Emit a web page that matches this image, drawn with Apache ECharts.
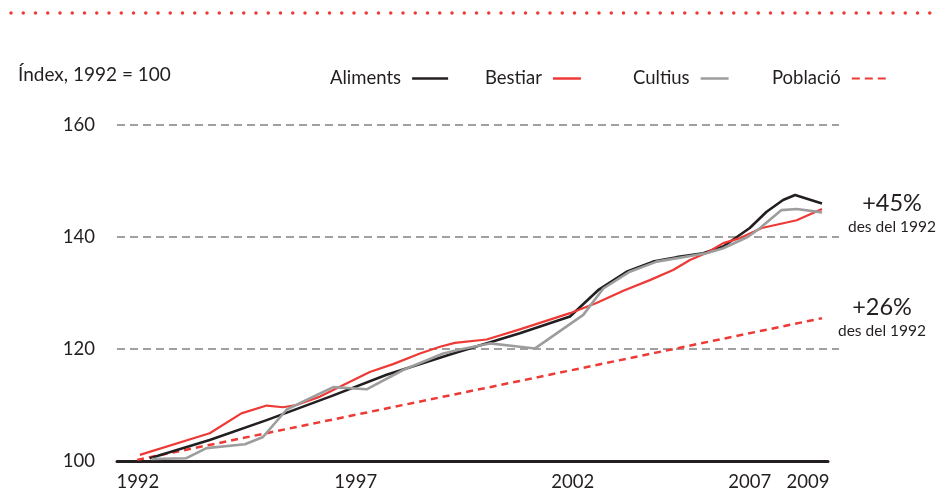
<!DOCTYPE html>
<html>
<head>
<meta charset="utf-8">
<script src="https://cdn.jsdelivr.net/npm/echarts@6/dist/echarts.min.js"></script>
<style>
html,body{margin:0;padding:0;background:#fff;}
#chart{width:938px;height:492px;}
</style>
</head>
<body>
<div id="chart"></div>
<script>
// ---- data (x = year, y = index 1992 = 100) ----
const aliments = [
  [1992.25, 100.5], [1993.74, 103.75], [1995.16, 107.3], [1996.74, 111.5], [1998.15, 115.4],
  [1999.81, 119.2], [2001.47, 122.8], [2002.72, 125.8], [2003.42, 130.5], [2004.13, 133.8],
  [2004.79, 135.6], [2005.38, 136.4], [2006.04, 137.1], [2006.54, 138.3], [2007.2, 141.6],
  [2007.62, 144.5], [2008.03, 146.6], [2008.33, 147.5], [2009.0, 146.0]
];
const bestiar = [
  [1992.0, 101.1], [1993.74, 104.95], [1994.53, 108.5], [1995.16, 109.9], [1995.57, 109.6],
  [1995.9, 110.0], [1996.49, 111.5], [1997.73, 115.9], [1998.31, 117.3], [1998.98, 119.2],
  [1999.48, 120.4], [1999.85, 121.1], [2000.64, 121.7], [2001.47, 123.5], [2002.72, 126.4],
  [2003.38, 128.2], [2004.05, 130.4], [2004.71, 132.3], [2005.29, 134.1], [2005.71, 135.9],
  [2006.13, 137.2], [2006.54, 138.9], [2006.96, 139.8], [2007.5, 141.6], [2008.37, 143.0],
  [2009.0, 145.0]
];
const cultius = [
  [1992.29, 100.36], [1993.16, 100.5], [1993.66, 102.3], [1994.62, 103.0], [1995.07, 104.3],
  [1995.66, 109.2], [1996.82, 113.2], [1997.65, 112.8], [1998.56, 116.25], [1999.56, 119.2],
  [1999.98, 119.9], [2000.72, 121.0], [2001.47, 120.4], [2001.85, 120.1], [2003.05, 126.1],
  [2003.55, 130.8], [2004.21, 133.8], [2004.88, 135.6], [2006.12, 137.1], [2006.54, 138.0],
  [2007.16, 140.05], [2007.45, 141.55], [2007.99, 144.8], [2008.37, 145.0], [2009.0, 144.4]
];
const poblacio = [[1991.93, 100.2], [2001.47, 114.3], [2009.0, 125.5]];

const seriesNames = ['Aliments', 'Bestiar', 'Cultius', 'Població'];
const xTickLabels = ['1992', '1997', '2002', '2007', '2009'];
const xTickAt = [1991.95, 1997.38, 2002.79, 2007.2, 2008.65];
const yTicks = [100, 120, 140, 160];
const annotations = [
  { big: '+45%', small: 'des del 1992' },
  { big: '+26%', small: 'des del 1992' }
];

// ---- styles ----
const FONT = 'Lato, "Open Sans", sans-serif';
const INK = '#231f20';
const RED = '#ee3a36';
const GREY = '#9d9d9d';

const chart = echarts.init(document.getElementById('chart'), null, { renderer: 'canvas' });

function lineSeries(name, data, color, width, dashed, z) {
  return {
    name: name, type: 'line', xAxisIndex: 1, yAxisIndex: 1,
    data: data, symbol: 'none', silent: true, animation: false, z: z,
    lineStyle: { color: color, width: width, type: dashed ? [7, 5] : 'solid', cap: 'butt', join: 'round' },
    itemStyle: { color: color }
  };
}

const legendLefts = [325, 480, 628, 767];
const legendIcons = [
  'rect', 'rect', 'rect',
  'path://M0,0h8v2h-8z M13,0h8v2h-8z M26,0h8v2h-8z'
];
const legendColors = [INK, RED, GREY, RED];
const legendIconW = [36, 28, 28, 34];

const option = {
  backgroundColor: '#fff',
  animation: false,
  textStyle: { fontFamily: FONT, color: INK },
  grid: [
    { left: 117, right: 99, top: 125, bottom: 31, containLabel: false },
    { left: 117, right: 110, top: 125, bottom: 31, containLabel: false }
  ],
  xAxis: [
    { gridIndex: 0, type: 'value', min: 0, max: 1, show: false },
    {
      gridIndex: 1, type: 'value', min: 1991.43, max: 2009.15,
      axisLine: { show: true, lineStyle: { color: INK, width: 3 } },
      axisTick: { show: false },
      splitLine: { show: false },
      axisLabel: {
        customValues: xTickAt,
        margin: 12,
        fontSize: 18.5,
        color: INK,
        fontFamily: FONT,
        formatter: function (v) {
          let best = 0, d = Infinity;
          xTickAt.forEach(function (t, i) { if (Math.abs(t - v) < d) { d = Math.abs(t - v); best = i; } });
          return xTickLabels[best];
        }
      }
    }
  ],
  yAxis: [
    {
      gridIndex: 0, type: 'value', min: yTicks[0], max: yTicks[yTicks.length - 1], interval: 20,
      axisLine: { show: false }, axisTick: { show: false },
      axisLabel: { margin: 22, fontSize: 18.5, color: INK, fontFamily: FONT },
      splitLine: { show: true, showMinLine: false, lineStyle: { color: '#a0a0a0', width: 2, type: [8, 5] } }
    },
    {
      gridIndex: 1, type: 'value', min: yTicks[0], max: yTicks[yTicks.length - 1], interval: 20,
      show: false, splitLine: { show: false }
    }
  ],
  legend: seriesNames.map(function (n, i) {
    return {
      data: [{ name: n, icon: legendIcons[i], itemStyle: { color: legendColors[i] } }],
      left: legendLefts[i], top: 64, align: 'right', selectedMode: false,
      itemWidth: legendIconW[i], itemHeight: 2.5, itemGap: 0,
      textStyle: { fontSize: 18.5, color: INK, fontFamily: FONT, padding: [0, 6, 0, 0] }
    };
  }),
  series: [
    lineSeries(seriesNames[3], poblacio, RED, 2.5, true, 2),
    lineSeries(seriesNames[0], aliments, INK, 2.6, false, 3),
    lineSeries(seriesNames[1], bestiar, RED, 2.2, false, 4),
    lineSeries(seriesNames[2], cultius, GREY, 2.6, false, 5)
  ],
  graphic: [
    { type: 'line', shape: { x1: 11, y1: 13, x2: 930, y2: 13 },
      style: { stroke: RED, lineWidth: 3.5, lineDash: [0, 12.25], lineCap: 'round' }, silent: true },
    { type: 'text', x: 18, y: 75,
      style: { text: 'Índex, 1992 = 100', font: '19px ' + FONT, fill: INK, textAlign: 'left', textVerticalAlign: 'middle' } },
    { type: 'text', x: 892, y: 203,
      style: { text: annotations[0].big, font: '23.5px ' + FONT, fill: INK, textAlign: 'center', textVerticalAlign: 'middle' } },
    { type: 'text', x: 892, y: 227,
      style: { text: annotations[0].small, font: '15.5px ' + FONT, fill: INK, textAlign: 'center', textVerticalAlign: 'middle' } },
    { type: 'text', x: 882, y: 307,
      style: { text: annotations[1].big, font: '23.5px ' + FONT, fill: INK, textAlign: 'center', textVerticalAlign: 'middle' } },
    { type: 'text', x: 882, y: 331,
      style: { text: annotations[1].small, font: '15.5px ' + FONT, fill: INK, textAlign: 'center', textVerticalAlign: 'middle' } }
  ]
};
chart.setOption(option);
</script>
</body>
</html>
